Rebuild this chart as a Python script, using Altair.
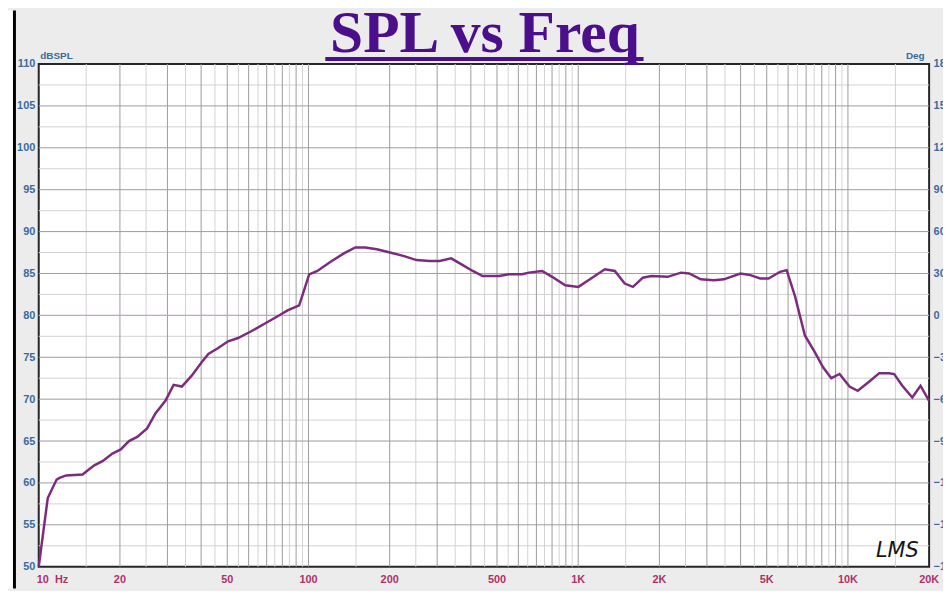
import altair as alt
import pandas as pd

# ---------------- data ----------------
freq_hz = [10, 10.8, 11.65, 11.94, 12.64, 14.55, 15.05, 16.07, 17.23, 18.76,
           20.14, 21.6, 23.18, 25.22, 27.08, 29.48, 31.62, 33.93, 36.91, 40.18,
           42.54, 46.28, 50.36, 54.82, 61.35, 68.71, 76.89, 83.68, 92.39, 100.6,
           107.9, 120.8, 135.3, 149.2, 162.4, 179.2, 200.6, 224.7, 251.5, 281.5,
           306.4, 338.2, 373.4, 406.4, 442.3, 509.2, 554.0, 620.5, 656.2, 735.0,
           800.1, 895.4, 1002, 1091, 1256, 1367, 1488, 1596, 1737, 1866,
           2147, 2404, 2579, 2848, 3187, 3468, 3995, 4348, 4732, 5077,
           5605, 5927, 6364, 6926, 7538, 8088, 8676, 9314, 10136, 10874,
           12006, 13068, 14222, 14838, 15914, 17322, 18581, 20000]
spl_db = [50.0, 58.2, 60.4, 60.6, 60.9, 61.0, 61.4, 62.1, 62.6, 63.5,
          64.0, 65.0, 65.5, 66.5, 68.3, 69.8, 71.7, 71.5, 72.8, 74.4,
          75.4, 76.1, 76.9, 77.3, 78.1, 79.0, 79.9, 80.6, 81.2, 84.9,
          85.3, 86.4, 87.4, 88.1, 88.1, 87.9, 87.5, 87.1, 86.6, 86.5,
          86.5, 86.8, 86.0, 85.3, 84.7, 84.7, 84.9, 84.9, 85.1, 85.3,
          84.6, 83.6, 83.4, 84.2, 85.5, 85.3, 83.8, 83.4, 84.5, 84.7,
          84.6, 85.1, 85.0, 84.3, 84.2, 84.3, 85.0, 84.8, 84.4, 84.4,
          85.2, 85.4, 82.3, 77.6, 75.6, 73.8, 72.5, 73.0, 71.5, 71.0,
          72.1, 73.1, 73.1, 73.0, 71.6, 70.2, 71.6, 69.8]

x_tick_values = [10, 20, 50, 100, 200, 500, 1000, 2000, 5000, 10000, 20000]
x_tick_labels = ["10\u00a0\u00a0Hz", "20", "50", "100", "200", "500", "1K", "2K", "5K", "10K", "20K"]
y_tick_values = [50, 55, 60, 65, 70, 75, 80, 85, 90, 95, 100, 105, 110]
deg_tick_values = [-180, -150, -120, -90, -60, -30, 0, 30, 60, 90, 120, 150, 180]
zero_deg = [0]

grid_decades = [10, 100, 1000, 10000]
grid_major_mult = [1, 2, 3, 4, 5, 6, 7, 8, 9]
grid_minor_mult = [1.5, 2.5, 3.5, 4.5, 5.5, 6.5, 7.5, 8.5, 9.5]
db_major = [55, 60, 65, 70, 75, 80, 85, 90, 95, 100, 105]
db_minor = [52.5, 57.5, 62.5, 67.5, 72.5, 77.5, 82.5, 87.5, 92.5, 97.5, 102.5, 107.5]

title_text = ["SPL vs Freq"]
logo_text = ["LMS"]

# ---------------- tables ----------------
curve_df = pd.DataFrame({"freq": freq_hz, "spl": spl_db})
xlab_df = pd.DataFrame({"freq": x_tick_values, "lab": x_tick_labels})
vmaj_df = pd.DataFrame({"freq": [d * m for d in grid_decades for m in grid_major_mult
                                 if 10 < d * m < 20000]})
vmin_df = pd.DataFrame({"freq": [d * m for d in grid_decades for m in grid_minor_mult
                                 if d * m < 20000]})
hmaj_df = pd.DataFrame({"spl": db_major})
hmin_df = pd.DataFrame({"spl": db_minor})
deg_df = pd.DataFrame({"deg": zero_deg})
title_df = pd.DataFrame({"t": title_text})
logo_df = pd.DataFrame({"t": logo_text})
one_df = pd.DataFrame({"k": [0]})

W, H = 898, 507
xscale = alt.Scale(type="log", domain=[10, 20000], nice=False)
yscale = alt.Scale(domain=[50, 110], nice=False, zero=False)

LABEL_FONT = "Liberation Sans"
BLUE = "#3a6a9e"
RED = "#b0306a"
PURPLE = "#7d2b7f"
TITLE_C = "#4b0f8c"

# ---------------- grid ----------------
g_vmin = alt.Chart(vmin_df).mark_rule(color="#d2d2d2", strokeWidth=1).encode(
    x=alt.X("freq:Q", scale=xscale, axis=None))
g_vmaj = alt.Chart(vmaj_df).mark_rule(color="#9c9c9c", strokeWidth=1).encode(
    x=alt.X("freq:Q", scale=xscale, axis=None))
g_hmin = alt.Chart(hmin_df).mark_rule(color="#d2d2d2", strokeWidth=1).encode(
    y=alt.Y("spl:Q", scale=yscale, axis=None))
g_hmaj = alt.Chart(hmaj_df).mark_rule(color="#9c9c9c", strokeWidth=1).encode(
    y=alt.Y("spl:Q", scale=yscale, axis=None))
grid = alt.layer(g_vmin, g_hmin, g_vmaj, g_hmaj)

# ---------------- phase axis (right) with 0 deg line ----------------
zero_line = alt.Chart(deg_df).mark_rule(color="#e592e5", strokeWidth=1).encode(
    y=alt.Y("deg:Q",
            scale=alt.Scale(domain=[-180, 180], nice=False, zero=False),
            axis=alt.Axis(orient="right", values=deg_tick_values, title="Deg",
                          titleAngle=0, titleX=-5, titleY=-6, titleAlign="right",
                          titleBaseline="alphabetic", titleFont=LABEL_FONT,
                          titleFontSize=10, titleFontWeight="bold", titleColor=BLUE,
                          labelFont=LABEL_FONT, labelFontSize=11, labelFontWeight="bold",
                          labelColor=BLUE, labelPadding=4, ticks=False, domain=False,
                          grid=False, labelOverlap=False)))

# ---------------- SPL curve with left axis ----------------
curve = alt.Chart(curve_df).mark_line(color=PURPLE, strokeWidth=2.5).encode(
    x=alt.X("freq:Q", scale=xscale, axis=None),
    y=alt.Y("spl:Q", scale=yscale,
            axis=alt.Axis(values=y_tick_values, title="dBSPL", titleAngle=0,
                          titleX=1, titleY=-6, titleAlign="left",
                          titleBaseline="alphabetic", titleFont=LABEL_FONT,
                          titleFontSize=10, titleFontWeight="bold", titleColor=BLUE,
                          labelFont=LABEL_FONT, labelFontSize=11, labelFontWeight="bold",
                          labelColor=BLUE, labelPadding=4, ticks=False, domain=False,
                          grid=False, labelOverlap=False)))

# ---------------- frequency labels (through the x scale) ----------------
xlab_first = alt.Chart(xlab_df.iloc[:1]).mark_text(
    font=LABEL_FONT, fontSize=11, fontWeight="bold", color=RED,
    align="left", baseline="middle", dx=-2).encode(
    x=alt.X("freq:Q", scale=xscale, axis=None), y=alt.value(H + 13), text="lab:N")
xlab_rest = alt.Chart(xlab_df.iloc[1:]).mark_text(
    font=LABEL_FONT, fontSize=11, fontWeight="bold", color=RED,
    align="center", baseline="middle").encode(
    x=alt.X("freq:Q", scale=xscale, axis=None), y=alt.value(H + 13), text="lab:N")

# ---------------- decorations ----------------
title_mark = alt.Chart(title_df).mark_text(
    font="Liberation Serif", fontSize=60, fontWeight="bold", color=TITLE_C,
    align="center", baseline="alphabetic").encode(
    text="t:N", x=alt.value(450), y=alt.value(-12))
underline = alt.Chart(one_df).mark_rule(color=TITLE_C, strokeWidth=4).encode(
    x=alt.value(289), x2=alt.value(610), y=alt.value(-5))
logo = alt.Chart(logo_df).mark_text(
    font="DejaVu Sans", fontSize=21, fontStyle="italic", color="#151515",
    align="center", baseline="alphabetic").encode(
    text="t:N", x=alt.value(866), y=alt.value(497))
white_strip = alt.Chart(one_df).mark_rect(color="white").encode(
    x=alt.value(-31), x2=alt.value(-26), y=alt.value(-54), y2=alt.value(529))
black_edge = alt.Chart(one_df).mark_rule(color="black", strokeWidth=3).encode(
    x=alt.value(-24.5), y=alt.value(-54), y2=alt.value(529))
deco = alt.layer(white_strip, black_edge, title_mark, underline, logo)

chart = alt.layer(grid, zero_line, curve, xlab_first, xlab_rest, deco).resolve_scale(
    y="independent"
).properties(
    width=W, height=H,
    autosize=alt.AutoSizeParams(type="none"),
    padding={"left": 31, "top": 54, "right": 14, "bottom": 22},
    background="#ececec",
).configure_view(
    stroke="#262626", strokeWidth=2, fill="white"
)

chart.save("out.html", embed_options={"renderer": "svg", "actions": False})
